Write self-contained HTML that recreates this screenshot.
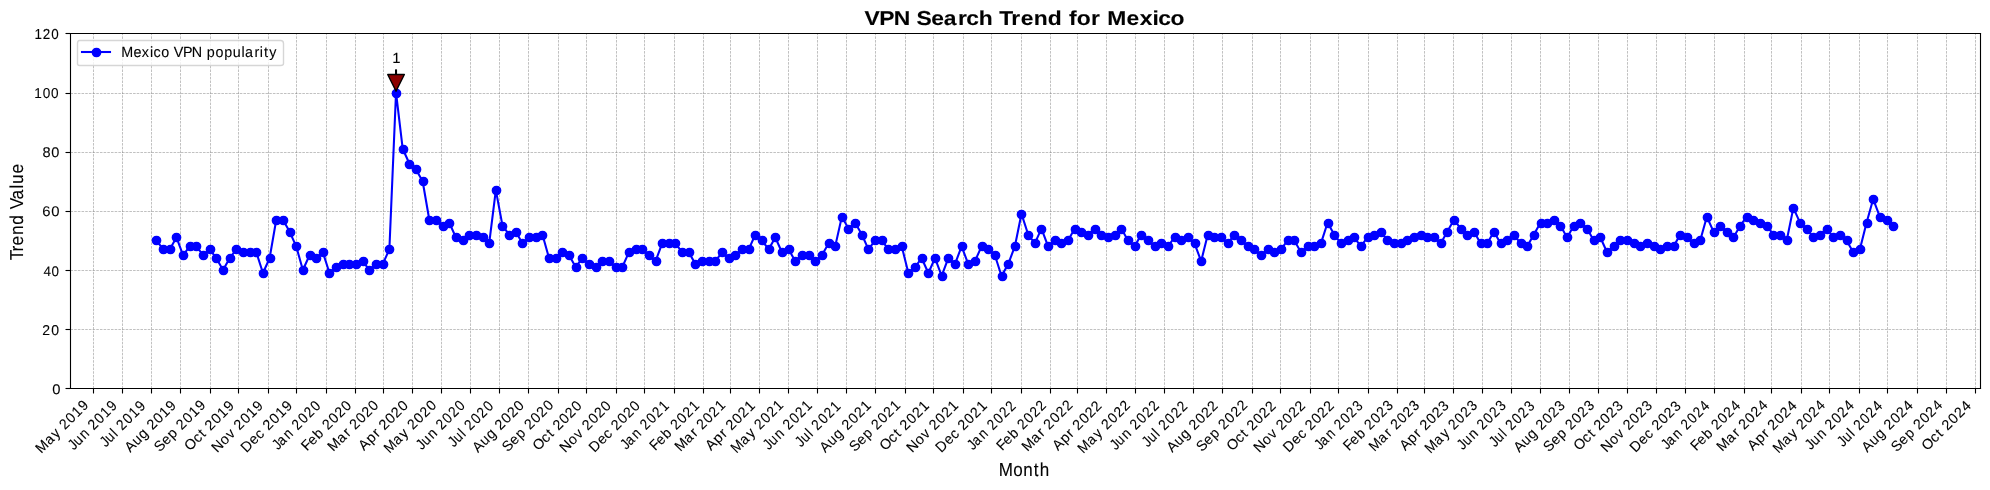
<!DOCTYPE html>
<html><head><meta charset="utf-8"><title>VPN Search Trend for Mexico</title>
<style>
html,body{margin:0;padding:0;background:#fff;width:1990px;height:490px;overflow:hidden}
svg{display:block;position:absolute;left:0;top:0}
.t{opacity:0.999}
text{font-family:"Liberation Sans",sans-serif;text-rendering:geometricPrecision;fill:#000;stroke:#000;stroke-width:0.1px}
</style></head><body>
<svg width="1990" height="490" viewBox="0 0 1990 490">
<rect width="1990" height="490" fill="#fff"/>
<path d="M70 388L1980 388L1980 33L70 33Z" fill="#ffffff"/>
<path d="M93.5 388.5L93.5 33.5" fill="none" stroke="#808080" stroke-width="0.694" stroke-opacity="0.715" stroke-linejoin="round" stroke-dasharray="2.569,1.111" stroke-dashoffset="0"/>
<path d="M93.5 388.5V393.5" stroke="#000" stroke-width="1.111"/>
<path d="M122.5 388.5L122.5 33.5" fill="none" stroke="#808080" stroke-width="0.694" stroke-opacity="0.715" stroke-linejoin="round" stroke-dasharray="2.569,1.111" stroke-dashoffset="0"/>
<path d="M122.5 388.5V393.5" stroke="#000" stroke-width="1.111"/>
<path d="M151.5 388.5L151.5 33.5" fill="none" stroke="#808080" stroke-width="0.694" stroke-opacity="0.715" stroke-linejoin="round" stroke-dasharray="2.569,1.111" stroke-dashoffset="0"/>
<path d="M151.5 388.5V393.5" stroke="#000" stroke-width="1.111"/>
<path d="M180.5 388.5L180.5 33.5" fill="none" stroke="#808080" stroke-width="0.694" stroke-opacity="0.715" stroke-linejoin="round" stroke-dasharray="2.569,1.111" stroke-dashoffset="0"/>
<path d="M180.5 388.5V393.5" stroke="#000" stroke-width="1.111"/>
<path d="M210.5 388.5L210.5 33.5" fill="none" stroke="#808080" stroke-width="0.694" stroke-opacity="0.715" stroke-linejoin="round" stroke-dasharray="2.569,1.111" stroke-dashoffset="0"/>
<path d="M210.5 388.5V393.5" stroke="#000" stroke-width="1.111"/>
<path d="M238.5 388.5L238.5 33.5" fill="none" stroke="#808080" stroke-width="0.694" stroke-opacity="0.715" stroke-linejoin="round" stroke-dasharray="2.569,1.111" stroke-dashoffset="0"/>
<path d="M238.5 388.5V393.5" stroke="#000" stroke-width="1.111"/>
<path d="M268.5 388.5L268.5 33.5" fill="none" stroke="#808080" stroke-width="0.694" stroke-opacity="0.715" stroke-linejoin="round" stroke-dasharray="2.569,1.111" stroke-dashoffset="0"/>
<path d="M268.5 388.5V393.5" stroke="#000" stroke-width="1.111"/>
<path d="M296.5 388.5L296.5 33.5" fill="none" stroke="#808080" stroke-width="0.694" stroke-opacity="0.715" stroke-linejoin="round" stroke-dasharray="2.569,1.111" stroke-dashoffset="0"/>
<path d="M296.5 388.5V393.5" stroke="#000" stroke-width="1.111"/>
<path d="M326.5 388.5L326.5 33.5" fill="none" stroke="#808080" stroke-width="0.694" stroke-opacity="0.715" stroke-linejoin="round" stroke-dasharray="2.569,1.111" stroke-dashoffset="0"/>
<path d="M326.5 388.5V393.5" stroke="#000" stroke-width="1.111"/>
<path d="M355.5 388.5L355.5 33.5" fill="none" stroke="#808080" stroke-width="0.694" stroke-opacity="0.715" stroke-linejoin="round" stroke-dasharray="2.569,1.111" stroke-dashoffset="0"/>
<path d="M355.5 388.5V393.5" stroke="#000" stroke-width="1.111"/>
<path d="M383.5 388.5L383.5 33.5" fill="none" stroke="#808080" stroke-width="0.694" stroke-opacity="0.715" stroke-linejoin="round" stroke-dasharray="2.569,1.111" stroke-dashoffset="0"/>
<path d="M383.5 388.5V393.5" stroke="#000" stroke-width="1.111"/>
<path d="M412.5 388.5L412.5 33.5" fill="none" stroke="#808080" stroke-width="0.694" stroke-opacity="0.715" stroke-linejoin="round" stroke-dasharray="2.569,1.111" stroke-dashoffset="0"/>
<path d="M412.5 388.5V393.5" stroke="#000" stroke-width="1.111"/>
<path d="M441.5 388.5L441.5 33.5" fill="none" stroke="#808080" stroke-width="0.694" stroke-opacity="0.715" stroke-linejoin="round" stroke-dasharray="2.569,1.111" stroke-dashoffset="0"/>
<path d="M441.5 388.5V393.5" stroke="#000" stroke-width="1.111"/>
<path d="M470.5 388.5L470.5 33.5" fill="none" stroke="#808080" stroke-width="0.694" stroke-opacity="0.715" stroke-linejoin="round" stroke-dasharray="2.569,1.111" stroke-dashoffset="0"/>
<path d="M470.5 388.5V393.5" stroke="#000" stroke-width="1.111"/>
<path d="M499.5 388.5L499.5 33.5" fill="none" stroke="#808080" stroke-width="0.694" stroke-opacity="0.715" stroke-linejoin="round" stroke-dasharray="2.569,1.111" stroke-dashoffset="0"/>
<path d="M499.5 388.5V393.5" stroke="#000" stroke-width="1.111"/>
<path d="M528.5 388.5L528.5 33.5" fill="none" stroke="#808080" stroke-width="0.694" stroke-opacity="0.715" stroke-linejoin="round" stroke-dasharray="2.569,1.111" stroke-dashoffset="0"/>
<path d="M528.5 388.5V393.5" stroke="#000" stroke-width="1.111"/>
<path d="M558.5 388.5L558.5 33.5" fill="none" stroke="#808080" stroke-width="0.694" stroke-opacity="0.715" stroke-linejoin="round" stroke-dasharray="2.569,1.111" stroke-dashoffset="0"/>
<path d="M558.5 388.5V393.5" stroke="#000" stroke-width="1.111"/>
<path d="M586.5 388.5L586.5 33.5" fill="none" stroke="#808080" stroke-width="0.694" stroke-opacity="0.715" stroke-linejoin="round" stroke-dasharray="2.569,1.111" stroke-dashoffset="0"/>
<path d="M586.5 388.5V393.5" stroke="#000" stroke-width="1.111"/>
<path d="M616.5 388.5L616.5 33.5" fill="none" stroke="#808080" stroke-width="0.694" stroke-opacity="0.715" stroke-linejoin="round" stroke-dasharray="2.569,1.111" stroke-dashoffset="0"/>
<path d="M616.5 388.5V393.5" stroke="#000" stroke-width="1.111"/>
<path d="M644.5 388.5L644.5 33.5" fill="none" stroke="#808080" stroke-width="0.694" stroke-opacity="0.715" stroke-linejoin="round" stroke-dasharray="2.569,1.111" stroke-dashoffset="0"/>
<path d="M644.5 388.5V393.5" stroke="#000" stroke-width="1.111"/>
<path d="M674.5 388.5L674.5 33.5" fill="none" stroke="#808080" stroke-width="0.694" stroke-opacity="0.715" stroke-linejoin="round" stroke-dasharray="2.569,1.111" stroke-dashoffset="0"/>
<path d="M674.5 388.5V393.5" stroke="#000" stroke-width="1.111"/>
<path d="M703.5 388.5L703.5 33.5" fill="none" stroke="#808080" stroke-width="0.694" stroke-opacity="0.715" stroke-linejoin="round" stroke-dasharray="2.569,1.111" stroke-dashoffset="0"/>
<path d="M703.5 388.5V393.5" stroke="#000" stroke-width="1.111"/>
<path d="M730.5 388.5L730.5 33.5" fill="none" stroke="#808080" stroke-width="0.694" stroke-opacity="0.715" stroke-linejoin="round" stroke-dasharray="2.569,1.111" stroke-dashoffset="0"/>
<path d="M730.5 388.5V393.5" stroke="#000" stroke-width="1.111"/>
<path d="M759.5 388.5L759.5 33.5" fill="none" stroke="#808080" stroke-width="0.694" stroke-opacity="0.715" stroke-linejoin="round" stroke-dasharray="2.569,1.111" stroke-dashoffset="0"/>
<path d="M759.5 388.5V393.5" stroke="#000" stroke-width="1.111"/>
<path d="M788.5 388.5L788.5 33.5" fill="none" stroke="#808080" stroke-width="0.694" stroke-opacity="0.715" stroke-linejoin="round" stroke-dasharray="2.569,1.111" stroke-dashoffset="0"/>
<path d="M788.5 388.5V393.5" stroke="#000" stroke-width="1.111"/>
<path d="M817.5 388.5L817.5 33.5" fill="none" stroke="#808080" stroke-width="0.694" stroke-opacity="0.715" stroke-linejoin="round" stroke-dasharray="2.569,1.111" stroke-dashoffset="0"/>
<path d="M817.5 388.5V393.5" stroke="#000" stroke-width="1.111"/>
<path d="M846.5 388.5L846.5 33.5" fill="none" stroke="#808080" stroke-width="0.694" stroke-opacity="0.715" stroke-linejoin="round" stroke-dasharray="2.569,1.111" stroke-dashoffset="0"/>
<path d="M846.5 388.5V393.5" stroke="#000" stroke-width="1.111"/>
<path d="M875.5 388.5L875.5 33.5" fill="none" stroke="#808080" stroke-width="0.694" stroke-opacity="0.715" stroke-linejoin="round" stroke-dasharray="2.569,1.111" stroke-dashoffset="0"/>
<path d="M875.5 388.5V393.5" stroke="#000" stroke-width="1.111"/>
<path d="M905.5 388.5L905.5 33.5" fill="none" stroke="#808080" stroke-width="0.694" stroke-opacity="0.715" stroke-linejoin="round" stroke-dasharray="2.569,1.111" stroke-dashoffset="0"/>
<path d="M905.5 388.5V393.5" stroke="#000" stroke-width="1.111"/>
<path d="M933.5 388.5L933.5 33.5" fill="none" stroke="#808080" stroke-width="0.694" stroke-opacity="0.715" stroke-linejoin="round" stroke-dasharray="2.569,1.111" stroke-dashoffset="0"/>
<path d="M933.5 388.5V393.5" stroke="#000" stroke-width="1.111"/>
<path d="M963.5 388.5L963.5 33.5" fill="none" stroke="#808080" stroke-width="0.694" stroke-opacity="0.715" stroke-linejoin="round" stroke-dasharray="2.569,1.111" stroke-dashoffset="0"/>
<path d="M963.5 388.5V393.5" stroke="#000" stroke-width="1.111"/>
<path d="M991.5 388.5L991.5 33.5" fill="none" stroke="#808080" stroke-width="0.694" stroke-opacity="0.715" stroke-linejoin="round" stroke-dasharray="2.569,1.111" stroke-dashoffset="0"/>
<path d="M991.5 388.5V393.5" stroke="#000" stroke-width="1.111"/>
<path d="M1021.5 388.5L1021.5 33.5" fill="none" stroke="#808080" stroke-width="0.694" stroke-opacity="0.715" stroke-linejoin="round" stroke-dasharray="2.569,1.111" stroke-dashoffset="0"/>
<path d="M1021.5 388.5V393.5" stroke="#000" stroke-width="1.111"/>
<path d="M1050.5 388.5L1050.5 33.5" fill="none" stroke="#808080" stroke-width="0.694" stroke-opacity="0.715" stroke-linejoin="round" stroke-dasharray="2.569,1.111" stroke-dashoffset="0"/>
<path d="M1050.5 388.5V393.5" stroke="#000" stroke-width="1.111"/>
<path d="M1077.5 388.5L1077.5 33.5" fill="none" stroke="#808080" stroke-width="0.694" stroke-opacity="0.715" stroke-linejoin="round" stroke-dasharray="2.569,1.111" stroke-dashoffset="0"/>
<path d="M1077.5 388.5V393.5" stroke="#000" stroke-width="1.111"/>
<path d="M1106.5 388.5L1106.5 33.5" fill="none" stroke="#808080" stroke-width="0.694" stroke-opacity="0.715" stroke-linejoin="round" stroke-dasharray="2.569,1.111" stroke-dashoffset="0"/>
<path d="M1106.5 388.5V393.5" stroke="#000" stroke-width="1.111"/>
<path d="M1135.5 388.5L1135.5 33.5" fill="none" stroke="#808080" stroke-width="0.694" stroke-opacity="0.715" stroke-linejoin="round" stroke-dasharray="2.569,1.111" stroke-dashoffset="0"/>
<path d="M1135.5 388.5V393.5" stroke="#000" stroke-width="1.111"/>
<path d="M1164.5 388.5L1164.5 33.5" fill="none" stroke="#808080" stroke-width="0.694" stroke-opacity="0.715" stroke-linejoin="round" stroke-dasharray="2.569,1.111" stroke-dashoffset="0"/>
<path d="M1164.5 388.5V393.5" stroke="#000" stroke-width="1.111"/>
<path d="M1193.5 388.5L1193.5 33.5" fill="none" stroke="#808080" stroke-width="0.694" stroke-opacity="0.715" stroke-linejoin="round" stroke-dasharray="2.569,1.111" stroke-dashoffset="0"/>
<path d="M1193.5 388.5V393.5" stroke="#000" stroke-width="1.111"/>
<path d="M1222.5 388.5L1222.5 33.5" fill="none" stroke="#808080" stroke-width="0.694" stroke-opacity="0.715" stroke-linejoin="round" stroke-dasharray="2.569,1.111" stroke-dashoffset="0"/>
<path d="M1222.5 388.5V393.5" stroke="#000" stroke-width="1.111"/>
<path d="M1252.5 388.5L1252.5 33.5" fill="none" stroke="#808080" stroke-width="0.694" stroke-opacity="0.715" stroke-linejoin="round" stroke-dasharray="2.569,1.111" stroke-dashoffset="0"/>
<path d="M1252.5 388.5V393.5" stroke="#000" stroke-width="1.111"/>
<path d="M1280.5 388.5L1280.5 33.5" fill="none" stroke="#808080" stroke-width="0.694" stroke-opacity="0.715" stroke-linejoin="round" stroke-dasharray="2.569,1.111" stroke-dashoffset="0"/>
<path d="M1280.5 388.5V393.5" stroke="#000" stroke-width="1.111"/>
<path d="M1310.5 388.5L1310.5 33.5" fill="none" stroke="#808080" stroke-width="0.694" stroke-opacity="0.715" stroke-linejoin="round" stroke-dasharray="2.569,1.111" stroke-dashoffset="0"/>
<path d="M1310.5 388.5V393.5" stroke="#000" stroke-width="1.111"/>
<path d="M1338.5 388.5L1338.5 33.5" fill="none" stroke="#808080" stroke-width="0.694" stroke-opacity="0.715" stroke-linejoin="round" stroke-dasharray="2.569,1.111" stroke-dashoffset="0"/>
<path d="M1338.5 388.5V393.5" stroke="#000" stroke-width="1.111"/>
<path d="M1368.5 388.5L1368.5 33.5" fill="none" stroke="#808080" stroke-width="0.694" stroke-opacity="0.715" stroke-linejoin="round" stroke-dasharray="2.569,1.111" stroke-dashoffset="0"/>
<path d="M1368.5 388.5V393.5" stroke="#000" stroke-width="1.111"/>
<path d="M1397.5 388.5L1397.5 33.5" fill="none" stroke="#808080" stroke-width="0.694" stroke-opacity="0.715" stroke-linejoin="round" stroke-dasharray="2.569,1.111" stroke-dashoffset="0"/>
<path d="M1397.5 388.5V393.5" stroke="#000" stroke-width="1.111"/>
<path d="M1424.5 388.5L1424.5 33.5" fill="none" stroke="#808080" stroke-width="0.694" stroke-opacity="0.715" stroke-linejoin="round" stroke-dasharray="2.569,1.111" stroke-dashoffset="0"/>
<path d="M1424.5 388.5V393.5" stroke="#000" stroke-width="1.111"/>
<path d="M1453.5 388.5L1453.5 33.5" fill="none" stroke="#808080" stroke-width="0.694" stroke-opacity="0.715" stroke-linejoin="round" stroke-dasharray="2.569,1.111" stroke-dashoffset="0"/>
<path d="M1453.5 388.5V393.5" stroke="#000" stroke-width="1.111"/>
<path d="M1482.5 388.5L1482.5 33.5" fill="none" stroke="#808080" stroke-width="0.694" stroke-opacity="0.715" stroke-linejoin="round" stroke-dasharray="2.569,1.111" stroke-dashoffset="0"/>
<path d="M1482.5 388.5V393.5" stroke="#000" stroke-width="1.111"/>
<path d="M1511.5 388.5L1511.5 33.5" fill="none" stroke="#808080" stroke-width="0.694" stroke-opacity="0.715" stroke-linejoin="round" stroke-dasharray="2.569,1.111" stroke-dashoffset="0"/>
<path d="M1511.5 388.5V393.5" stroke="#000" stroke-width="1.111"/>
<path d="M1540.5 388.5L1540.5 33.5" fill="none" stroke="#808080" stroke-width="0.694" stroke-opacity="0.715" stroke-linejoin="round" stroke-dasharray="2.569,1.111" stroke-dashoffset="0"/>
<path d="M1540.5 388.5V393.5" stroke="#000" stroke-width="1.111"/>
<path d="M1569.5 388.5L1569.5 33.5" fill="none" stroke="#808080" stroke-width="0.694" stroke-opacity="0.715" stroke-linejoin="round" stroke-dasharray="2.569,1.111" stroke-dashoffset="0"/>
<path d="M1569.5 388.5V393.5" stroke="#000" stroke-width="1.111"/>
<path d="M1598.5 388.5L1598.5 33.5" fill="none" stroke="#808080" stroke-width="0.694" stroke-opacity="0.715" stroke-linejoin="round" stroke-dasharray="2.569,1.111" stroke-dashoffset="0"/>
<path d="M1598.5 388.5V393.5" stroke="#000" stroke-width="1.111"/>
<path d="M1627.5 388.5L1627.5 33.5" fill="none" stroke="#808080" stroke-width="0.694" stroke-opacity="0.715" stroke-linejoin="round" stroke-dasharray="2.569,1.111" stroke-dashoffset="0"/>
<path d="M1627.5 388.5V393.5" stroke="#000" stroke-width="1.111"/>
<path d="M1656.5 388.5L1656.5 33.5" fill="none" stroke="#808080" stroke-width="0.694" stroke-opacity="0.715" stroke-linejoin="round" stroke-dasharray="2.569,1.111" stroke-dashoffset="0"/>
<path d="M1656.5 388.5V393.5" stroke="#000" stroke-width="1.111"/>
<path d="M1685.5 388.5L1685.5 33.5" fill="none" stroke="#808080" stroke-width="0.694" stroke-opacity="0.715" stroke-linejoin="round" stroke-dasharray="2.569,1.111" stroke-dashoffset="0"/>
<path d="M1685.5 388.5V393.5" stroke="#000" stroke-width="1.111"/>
<path d="M1714.5 388.5L1714.5 33.5" fill="none" stroke="#808080" stroke-width="0.694" stroke-opacity="0.715" stroke-linejoin="round" stroke-dasharray="2.569,1.111" stroke-dashoffset="0"/>
<path d="M1714.5 388.5V393.5" stroke="#000" stroke-width="1.111"/>
<path d="M1744.5 388.5L1744.5 33.5" fill="none" stroke="#808080" stroke-width="0.694" stroke-opacity="0.715" stroke-linejoin="round" stroke-dasharray="2.569,1.111" stroke-dashoffset="0"/>
<path d="M1744.5 388.5V393.5" stroke="#000" stroke-width="1.111"/>
<path d="M1771.5 388.5L1771.5 33.5" fill="none" stroke="#808080" stroke-width="0.694" stroke-opacity="0.715" stroke-linejoin="round" stroke-dasharray="2.569,1.111" stroke-dashoffset="0"/>
<path d="M1771.5 388.5V393.5" stroke="#000" stroke-width="1.111"/>
<path d="M1801.5 388.5L1801.5 33.5" fill="none" stroke="#808080" stroke-width="0.694" stroke-opacity="0.715" stroke-linejoin="round" stroke-dasharray="2.569,1.111" stroke-dashoffset="0"/>
<path d="M1801.5 388.5V393.5" stroke="#000" stroke-width="1.111"/>
<path d="M1829.5 388.5L1829.5 33.5" fill="none" stroke="#808080" stroke-width="0.694" stroke-opacity="0.715" stroke-linejoin="round" stroke-dasharray="2.569,1.111" stroke-dashoffset="0"/>
<path d="M1829.5 388.5V393.5" stroke="#000" stroke-width="1.111"/>
<path d="M1859.5 388.5L1859.5 33.5" fill="none" stroke="#808080" stroke-width="0.694" stroke-opacity="0.715" stroke-linejoin="round" stroke-dasharray="2.569,1.111" stroke-dashoffset="0"/>
<path d="M1859.5 388.5V393.5" stroke="#000" stroke-width="1.111"/>
<path d="M1887.5 388.5L1887.5 33.5" fill="none" stroke="#808080" stroke-width="0.694" stroke-opacity="0.715" stroke-linejoin="round" stroke-dasharray="2.569,1.111" stroke-dashoffset="0"/>
<path d="M1887.5 388.5V393.5" stroke="#000" stroke-width="1.111"/>
<path d="M1917.5 388.5L1917.5 33.5" fill="none" stroke="#808080" stroke-width="0.694" stroke-opacity="0.715" stroke-linejoin="round" stroke-dasharray="2.569,1.111" stroke-dashoffset="0"/>
<path d="M1917.5 388.5V393.5" stroke="#000" stroke-width="1.111"/>
<path d="M1946.5 388.5L1946.5 33.5" fill="none" stroke="#808080" stroke-width="0.694" stroke-opacity="0.715" stroke-linejoin="round" stroke-dasharray="2.569,1.111" stroke-dashoffset="0"/>
<path d="M1946.5 388.5V393.5" stroke="#000" stroke-width="1.111"/>
<path d="M1975.5 388.5L1975.5 33.5" fill="none" stroke="#808080" stroke-width="0.694" stroke-opacity="0.715" stroke-linejoin="round" stroke-dasharray="2.569,1.111" stroke-dashoffset="0"/>
<path d="M1975.5 388.5V393.5" stroke="#000" stroke-width="1.111"/>
<path d="M70.5 388.5L1980.5 388.5" fill="none" stroke="#808080" stroke-width="0.694" stroke-opacity="0.715" stroke-linejoin="round" stroke-dasharray="2.569,1.111" stroke-dashoffset="0"/>
<path d="M65.5 388.5H70.5" stroke="#000" stroke-width="1.111"/>
<path d="M70.5 329.5L1980.5 329.5" fill="none" stroke="#808080" stroke-width="0.694" stroke-opacity="0.715" stroke-linejoin="round" stroke-dasharray="2.569,1.111" stroke-dashoffset="0"/>
<path d="M65.5 329.5H70.5" stroke="#000" stroke-width="1.111"/>
<path d="M70.5 270.5L1980.5 270.5" fill="none" stroke="#808080" stroke-width="0.694" stroke-opacity="0.715" stroke-linejoin="round" stroke-dasharray="2.569,1.111" stroke-dashoffset="0"/>
<path d="M65.5 270.5H70.5" stroke="#000" stroke-width="1.111"/>
<path d="M70.5 211.5L1980.5 211.5" fill="none" stroke="#808080" stroke-width="0.694" stroke-opacity="0.715" stroke-linejoin="round" stroke-dasharray="2.569,1.111" stroke-dashoffset="0"/>
<path d="M65.5 211.5H70.5" stroke="#000" stroke-width="1.111"/>
<path d="M70.5 152.5L1980.5 152.5" fill="none" stroke="#808080" stroke-width="0.694" stroke-opacity="0.715" stroke-linejoin="round" stroke-dasharray="2.569,1.111" stroke-dashoffset="0"/>
<path d="M65.5 152.5H70.5" stroke="#000" stroke-width="1.111"/>
<path d="M70.5 93.5L1980.5 93.5" fill="none" stroke="#808080" stroke-width="0.694" stroke-opacity="0.715" stroke-linejoin="round" stroke-dasharray="2.569,1.111" stroke-dashoffset="0"/>
<path d="M65.5 93.5H70.5" stroke="#000" stroke-width="1.111"/>
<path d="M70.5 33.5L1980.5 33.5" fill="none" stroke="#808080" stroke-width="0.694" stroke-opacity="0.715" stroke-linejoin="round" stroke-dasharray="2.569,1.111" stroke-dashoffset="0"/>
<path d="M65.5 33.5H70.5" stroke="#000" stroke-width="1.111"/>
<path d="M156.487 240.447L163.141 249.324L169.795 249.324L176.449 237.489L183.103 255.241L189.756 246.365L196.41 246.365L203.064 255.241L209.718 249.324L216.372 258.2L223.026 270.035L229.68 258.2L236.334 249.324L242.988 252.282L249.642 252.282L256.296 252.282L262.95 272.994L269.604 258.2L276.258 219.736L282.912 219.736L289.566 231.571L296.22 246.365L302.874 270.035L309.527 255.241L316.181 258.2L322.835 252.282L329.489 272.994L336.143 267.076L342.797 264.118L349.451 264.118L356.105 264.118L362.759 261.159L369.413 270.035L376.067 264.118L382.721 264.118L389.375 249.324L396.029 92.509L402.683 148.725L409.337 163.519L415.991 169.437L422.644 181.272L429.298 219.736L435.952 219.736L442.606 225.653L449.26 222.695L455.914 237.489L462.568 240.447L469.222 234.53L475.876 234.53L482.53 237.489L489.184 243.406L495.838 190.148L502.492 225.653L509.146 234.53L515.8 231.571L522.454 243.406L529.108 237.489L535.762 237.489L542.415 234.53L549.069 258.2L555.723 258.2L562.377 252.282L569.031 255.241L575.685 267.076L582.339 258.2L588.993 264.118L595.647 267.076L602.301 261.159L608.955 261.159L615.609 267.076L622.263 267.076L628.917 252.282L635.571 249.324L642.225 249.324L648.879 255.241L655.533 261.159L662.186 243.406L668.84 243.406L675.494 243.406L682.148 252.282L688.802 252.282L695.456 264.118L702.11 261.159L708.764 261.159L715.418 261.159L722.072 252.282L728.726 258.2L735.38 255.241L742.034 249.324L748.688 249.324L755.342 234.53L761.996 240.447L768.65 249.324L775.304 237.489L781.957 252.282L788.611 249.324L795.265 261.159L801.919 255.241L808.573 255.241L815.227 261.159L821.881 255.241L828.535 243.406L835.189 246.365L841.843 216.777L848.497 228.612L855.151 222.695L861.805 234.53L868.459 249.324L875.113 240.447L881.767 240.447L888.421 249.324L895.074 249.324L901.728 246.365L908.382 272.994L915.036 267.076L921.69 258.2L928.344 272.994L934.998 258.2L941.652 275.953L948.306 258.2L954.96 264.118L961.614 246.365L968.268 264.118L974.922 261.159L981.576 246.365L988.23 249.324L994.884 255.241L1001.538 275.953L1008.192 264.118L1014.845 246.365L1021.499 213.818L1028.153 234.53L1034.807 243.406L1041.461 228.612L1048.115 246.365L1054.769 240.447L1061.423 243.406L1068.077 240.447L1074.731 228.612L1081.385 231.571L1088.039 234.53L1094.693 228.612L1101.347 234.53L1108.001 237.489L1114.655 234.53L1121.309 228.612L1127.963 240.447L1134.616 246.365L1141.27 234.53L1147.924 240.447L1154.578 246.365L1161.232 243.406L1167.886 246.365L1174.54 237.489L1181.194 240.447L1187.848 237.489L1194.502 243.406L1201.156 261.159L1207.81 234.53L1214.464 237.489L1221.118 237.489L1227.772 243.406L1234.426 234.53L1241.08 240.447L1247.734 246.365L1254.387 249.324L1261.041 255.241L1267.695 249.324L1274.349 252.282L1281.003 249.324L1287.657 240.447L1294.311 240.447L1300.965 252.282L1307.619 246.365L1314.273 246.365L1320.927 243.406L1327.581 222.695L1334.235 234.53L1340.889 243.406L1347.543 240.447L1354.197 237.489L1360.851 246.365L1367.504 237.489L1374.158 234.53L1380.812 231.571L1387.466 240.447L1394.12 243.406L1400.774 243.406L1407.428 240.447L1414.082 237.489L1420.736 234.53L1427.39 237.489L1434.044 237.489L1440.698 243.406L1447.352 231.571L1454.006 219.736L1460.66 228.612L1467.314 234.53L1473.968 231.571L1480.622 243.406L1487.275 243.406L1493.929 231.571L1500.583 243.406L1507.237 240.447L1513.891 234.53L1520.545 243.406L1527.199 246.365L1533.853 234.53L1540.507 222.695L1547.161 222.695L1553.815 219.736L1560.469 225.653L1567.123 237.489L1573.777 225.653L1580.431 222.695L1587.085 228.612L1593.739 240.447L1600.393 237.489L1607.046 252.282L1613.7 246.365L1620.354 240.447L1627.008 240.447L1633.662 243.406L1640.316 246.365L1646.97 243.406L1653.624 246.365L1660.278 249.324L1666.932 246.365L1673.586 246.365L1680.24 234.53L1686.894 237.489L1693.548 243.406L1700.202 240.447L1706.856 216.777L1713.51 231.571L1720.164 225.653L1726.817 231.571L1733.471 237.489L1740.125 225.653L1746.779 216.777L1753.433 219.736L1760.087 222.695L1766.741 225.653L1773.395 234.53L1780.049 234.53L1786.703 240.447L1793.357 207.901L1800.011 222.695L1806.665 228.612L1813.319 237.489L1819.973 234.53L1826.627 228.612L1833.281 237.489L1839.934 234.53L1846.588 240.447L1853.242 252.282L1859.896 249.324L1866.55 222.695L1873.204 199.025L1879.858 216.777L1886.512 219.736L1893.166 225.653" fill="none" stroke="#0000ff" stroke-width="2.083" stroke-linecap="square" stroke-linejoin="round"/>
<g fill="#0000ff" stroke="#0000ff" stroke-width="1.389"><circle cx="156.5" cy="240.5" r="4.167"/><circle cx="163.5" cy="249.5" r="4.167"/><circle cx="170.5" cy="249.5" r="4.167"/><circle cx="176.5" cy="237.5" r="4.167"/><circle cx="183.5" cy="255.5" r="4.167"/><circle cx="190.5" cy="246.5" r="4.167"/><circle cx="196.5" cy="246.5" r="4.167"/><circle cx="203.5" cy="255.5" r="4.167"/><circle cx="210.5" cy="249.5" r="4.167"/><circle cx="216.5" cy="258.5" r="4.167"/><circle cx="223.5" cy="270.5" r="4.167"/><circle cx="230.5" cy="258.5" r="4.167"/><circle cx="236.5" cy="249.5" r="4.167"/><circle cx="243.5" cy="252.5" r="4.167"/><circle cx="250.5" cy="252.5" r="4.167"/><circle cx="256.5" cy="252.5" r="4.167"/><circle cx="263.5" cy="273.5" r="4.167"/><circle cx="270.5" cy="258.5" r="4.167"/><circle cx="276.5" cy="220.5" r="4.167"/><circle cx="283.5" cy="220.5" r="4.167"/><circle cx="290.5" cy="232.5" r="4.167"/><circle cx="296.5" cy="246.5" r="4.167"/><circle cx="303.5" cy="270.5" r="4.167"/><circle cx="310.5" cy="255.5" r="4.167"/><circle cx="316.5" cy="258.5" r="4.167"/><circle cx="323.5" cy="252.5" r="4.167"/><circle cx="329.5" cy="273.5" r="4.167"/><circle cx="336.5" cy="267.5" r="4.167"/><circle cx="343.5" cy="264.5" r="4.167"/><circle cx="349.5" cy="264.5" r="4.167"/><circle cx="356.5" cy="264.5" r="4.167"/><circle cx="363.5" cy="261.5" r="4.167"/><circle cx="369.5" cy="270.5" r="4.167"/><circle cx="376.5" cy="264.5" r="4.167"/><circle cx="383.5" cy="264.5" r="4.167"/><circle cx="389.5" cy="249.5" r="4.167"/><circle cx="396.5" cy="93.5" r="4.167"/><circle cx="403.5" cy="149.5" r="4.167"/><circle cx="409.5" cy="164.5" r="4.167"/><circle cx="416.5" cy="169.5" r="4.167"/><circle cx="423.5" cy="181.5" r="4.167"/><circle cx="429.5" cy="220.5" r="4.167"/><circle cx="436.5" cy="220.5" r="4.167"/><circle cx="443.5" cy="226.5" r="4.167"/><circle cx="449.5" cy="223.5" r="4.167"/><circle cx="456.5" cy="237.5" r="4.167"/><circle cx="463.5" cy="240.5" r="4.167"/><circle cx="469.5" cy="235.5" r="4.167"/><circle cx="476.5" cy="235.5" r="4.167"/><circle cx="483.5" cy="237.5" r="4.167"/><circle cx="489.5" cy="243.5" r="4.167"/><circle cx="496.5" cy="190.5" r="4.167"/><circle cx="502.5" cy="226.5" r="4.167"/><circle cx="509.5" cy="235.5" r="4.167"/><circle cx="516.5" cy="232.5" r="4.167"/><circle cx="522.5" cy="243.5" r="4.167"/><circle cx="529.5" cy="237.5" r="4.167"/><circle cx="536.5" cy="237.5" r="4.167"/><circle cx="542.5" cy="235.5" r="4.167"/><circle cx="549.5" cy="258.5" r="4.167"/><circle cx="556.5" cy="258.5" r="4.167"/><circle cx="562.5" cy="252.5" r="4.167"/><circle cx="569.5" cy="255.5" r="4.167"/><circle cx="576.5" cy="267.5" r="4.167"/><circle cx="582.5" cy="258.5" r="4.167"/><circle cx="589.5" cy="264.5" r="4.167"/><circle cx="596.5" cy="267.5" r="4.167"/><circle cx="602.5" cy="261.5" r="4.167"/><circle cx="609.5" cy="261.5" r="4.167"/><circle cx="616.5" cy="267.5" r="4.167"/><circle cx="622.5" cy="267.5" r="4.167"/><circle cx="629.5" cy="252.5" r="4.167"/><circle cx="636.5" cy="249.5" r="4.167"/><circle cx="642.5" cy="249.5" r="4.167"/><circle cx="649.5" cy="255.5" r="4.167"/><circle cx="656.5" cy="261.5" r="4.167"/><circle cx="662.5" cy="243.5" r="4.167"/><circle cx="669.5" cy="243.5" r="4.167"/><circle cx="675.5" cy="243.5" r="4.167"/><circle cx="682.5" cy="252.5" r="4.167"/><circle cx="689.5" cy="252.5" r="4.167"/><circle cx="695.5" cy="264.5" r="4.167"/><circle cx="702.5" cy="261.5" r="4.167"/><circle cx="709.5" cy="261.5" r="4.167"/><circle cx="715.5" cy="261.5" r="4.167"/><circle cx="722.5" cy="252.5" r="4.167"/><circle cx="729.5" cy="258.5" r="4.167"/><circle cx="735.5" cy="255.5" r="4.167"/><circle cx="742.5" cy="249.5" r="4.167"/><circle cx="749.5" cy="249.5" r="4.167"/><circle cx="755.5" cy="235.5" r="4.167"/><circle cx="762.5" cy="240.5" r="4.167"/><circle cx="769.5" cy="249.5" r="4.167"/><circle cx="775.5" cy="237.5" r="4.167"/><circle cx="782.5" cy="252.5" r="4.167"/><circle cx="789.5" cy="249.5" r="4.167"/><circle cx="795.5" cy="261.5" r="4.167"/><circle cx="802.5" cy="255.5" r="4.167"/><circle cx="809.5" cy="255.5" r="4.167"/><circle cx="815.5" cy="261.5" r="4.167"/><circle cx="822.5" cy="255.5" r="4.167"/><circle cx="829.5" cy="243.5" r="4.167"/><circle cx="835.5" cy="246.5" r="4.167"/><circle cx="842.5" cy="217.5" r="4.167"/><circle cx="848.5" cy="229.5" r="4.167"/><circle cx="855.5" cy="223.5" r="4.167"/><circle cx="862.5" cy="235.5" r="4.167"/><circle cx="868.5" cy="249.5" r="4.167"/><circle cx="875.5" cy="240.5" r="4.167"/><circle cx="882.5" cy="240.5" r="4.167"/><circle cx="888.5" cy="249.5" r="4.167"/><circle cx="895.5" cy="249.5" r="4.167"/><circle cx="902.5" cy="246.5" r="4.167"/><circle cx="908.5" cy="273.5" r="4.167"/><circle cx="915.5" cy="267.5" r="4.167"/><circle cx="922.5" cy="258.5" r="4.167"/><circle cx="928.5" cy="273.5" r="4.167"/><circle cx="935.5" cy="258.5" r="4.167"/><circle cx="942.5" cy="276.5" r="4.167"/><circle cx="948.5" cy="258.5" r="4.167"/><circle cx="955.5" cy="264.5" r="4.167"/><circle cx="962.5" cy="246.5" r="4.167"/><circle cx="968.5" cy="264.5" r="4.167"/><circle cx="975.5" cy="261.5" r="4.167"/><circle cx="982.5" cy="246.5" r="4.167"/><circle cx="988.5" cy="249.5" r="4.167"/><circle cx="995.5" cy="255.5" r="4.167"/><circle cx="1002.5" cy="276.5" r="4.167"/><circle cx="1008.5" cy="264.5" r="4.167"/><circle cx="1015.5" cy="246.5" r="4.167"/><circle cx="1021.5" cy="214.5" r="4.167"/><circle cx="1028.5" cy="235.5" r="4.167"/><circle cx="1035.5" cy="243.5" r="4.167"/><circle cx="1041.5" cy="229.5" r="4.167"/><circle cx="1048.5" cy="246.5" r="4.167"/><circle cx="1055.5" cy="240.5" r="4.167"/><circle cx="1061.5" cy="243.5" r="4.167"/><circle cx="1068.5" cy="240.5" r="4.167"/><circle cx="1075.5" cy="229.5" r="4.167"/><circle cx="1081.5" cy="232.5" r="4.167"/><circle cx="1088.5" cy="235.5" r="4.167"/><circle cx="1095.5" cy="229.5" r="4.167"/><circle cx="1101.5" cy="235.5" r="4.167"/><circle cx="1108.5" cy="237.5" r="4.167"/><circle cx="1115.5" cy="235.5" r="4.167"/><circle cx="1121.5" cy="229.5" r="4.167"/><circle cx="1128.5" cy="240.5" r="4.167"/><circle cx="1135.5" cy="246.5" r="4.167"/><circle cx="1141.5" cy="235.5" r="4.167"/><circle cx="1148.5" cy="240.5" r="4.167"/><circle cx="1155.5" cy="246.5" r="4.167"/><circle cx="1161.5" cy="243.5" r="4.167"/><circle cx="1168.5" cy="246.5" r="4.167"/><circle cx="1175.5" cy="237.5" r="4.167"/><circle cx="1181.5" cy="240.5" r="4.167"/><circle cx="1188.5" cy="237.5" r="4.167"/><circle cx="1195.5" cy="243.5" r="4.167"/><circle cx="1201.5" cy="261.5" r="4.167"/><circle cx="1208.5" cy="235.5" r="4.167"/><circle cx="1214.5" cy="237.5" r="4.167"/><circle cx="1221.5" cy="237.5" r="4.167"/><circle cx="1228.5" cy="243.5" r="4.167"/><circle cx="1234.5" cy="235.5" r="4.167"/><circle cx="1241.5" cy="240.5" r="4.167"/><circle cx="1248.5" cy="246.5" r="4.167"/><circle cx="1254.5" cy="249.5" r="4.167"/><circle cx="1261.5" cy="255.5" r="4.167"/><circle cx="1268.5" cy="249.5" r="4.167"/><circle cx="1274.5" cy="252.5" r="4.167"/><circle cx="1281.5" cy="249.5" r="4.167"/><circle cx="1288.5" cy="240.5" r="4.167"/><circle cx="1294.5" cy="240.5" r="4.167"/><circle cx="1301.5" cy="252.5" r="4.167"/><circle cx="1308.5" cy="246.5" r="4.167"/><circle cx="1314.5" cy="246.5" r="4.167"/><circle cx="1321.5" cy="243.5" r="4.167"/><circle cx="1328.5" cy="223.5" r="4.167"/><circle cx="1334.5" cy="235.5" r="4.167"/><circle cx="1341.5" cy="243.5" r="4.167"/><circle cx="1348.5" cy="240.5" r="4.167"/><circle cx="1354.5" cy="237.5" r="4.167"/><circle cx="1361.5" cy="246.5" r="4.167"/><circle cx="1368.5" cy="237.5" r="4.167"/><circle cx="1374.5" cy="235.5" r="4.167"/><circle cx="1381.5" cy="232.5" r="4.167"/><circle cx="1387.5" cy="240.5" r="4.167"/><circle cx="1394.5" cy="243.5" r="4.167"/><circle cx="1401.5" cy="243.5" r="4.167"/><circle cx="1407.5" cy="240.5" r="4.167"/><circle cx="1414.5" cy="237.5" r="4.167"/><circle cx="1421.5" cy="235.5" r="4.167"/><circle cx="1427.5" cy="237.5" r="4.167"/><circle cx="1434.5" cy="237.5" r="4.167"/><circle cx="1441.5" cy="243.5" r="4.167"/><circle cx="1447.5" cy="232.5" r="4.167"/><circle cx="1454.5" cy="220.5" r="4.167"/><circle cx="1461.5" cy="229.5" r="4.167"/><circle cx="1467.5" cy="235.5" r="4.167"/><circle cx="1474.5" cy="232.5" r="4.167"/><circle cx="1481.5" cy="243.5" r="4.167"/><circle cx="1487.5" cy="243.5" r="4.167"/><circle cx="1494.5" cy="232.5" r="4.167"/><circle cx="1501.5" cy="243.5" r="4.167"/><circle cx="1507.5" cy="240.5" r="4.167"/><circle cx="1514.5" cy="235.5" r="4.167"/><circle cx="1521.5" cy="243.5" r="4.167"/><circle cx="1527.5" cy="246.5" r="4.167"/><circle cx="1534.5" cy="235.5" r="4.167"/><circle cx="1541.5" cy="223.5" r="4.167"/><circle cx="1547.5" cy="223.5" r="4.167"/><circle cx="1554.5" cy="220.5" r="4.167"/><circle cx="1560.5" cy="226.5" r="4.167"/><circle cx="1567.5" cy="237.5" r="4.167"/><circle cx="1574.5" cy="226.5" r="4.167"/><circle cx="1580.5" cy="223.5" r="4.167"/><circle cx="1587.5" cy="229.5" r="4.167"/><circle cx="1594.5" cy="240.5" r="4.167"/><circle cx="1600.5" cy="237.5" r="4.167"/><circle cx="1607.5" cy="252.5" r="4.167"/><circle cx="1614.5" cy="246.5" r="4.167"/><circle cx="1620.5" cy="240.5" r="4.167"/><circle cx="1627.5" cy="240.5" r="4.167"/><circle cx="1634.5" cy="243.5" r="4.167"/><circle cx="1640.5" cy="246.5" r="4.167"/><circle cx="1647.5" cy="243.5" r="4.167"/><circle cx="1654.5" cy="246.5" r="4.167"/><circle cx="1660.5" cy="249.5" r="4.167"/><circle cx="1667.5" cy="246.5" r="4.167"/><circle cx="1674.5" cy="246.5" r="4.167"/><circle cx="1680.5" cy="235.5" r="4.167"/><circle cx="1687.5" cy="237.5" r="4.167"/><circle cx="1694.5" cy="243.5" r="4.167"/><circle cx="1700.5" cy="240.5" r="4.167"/><circle cx="1707.5" cy="217.5" r="4.167"/><circle cx="1714.5" cy="232.5" r="4.167"/><circle cx="1720.5" cy="226.5" r="4.167"/><circle cx="1727.5" cy="232.5" r="4.167"/><circle cx="1733.5" cy="237.5" r="4.167"/><circle cx="1740.5" cy="226.5" r="4.167"/><circle cx="1747.5" cy="217.5" r="4.167"/><circle cx="1753.5" cy="220.5" r="4.167"/><circle cx="1760.5" cy="223.5" r="4.167"/><circle cx="1767.5" cy="226.5" r="4.167"/><circle cx="1773.5" cy="235.5" r="4.167"/><circle cx="1780.5" cy="235.5" r="4.167"/><circle cx="1787.5" cy="240.5" r="4.167"/><circle cx="1793.5" cy="208.5" r="4.167"/><circle cx="1800.5" cy="223.5" r="4.167"/><circle cx="1807.5" cy="229.5" r="4.167"/><circle cx="1813.5" cy="237.5" r="4.167"/><circle cx="1820.5" cy="235.5" r="4.167"/><circle cx="1827.5" cy="229.5" r="4.167"/><circle cx="1833.5" cy="237.5" r="4.167"/><circle cx="1840.5" cy="235.5" r="4.167"/><circle cx="1847.5" cy="240.5" r="4.167"/><circle cx="1853.5" cy="252.5" r="4.167"/><circle cx="1860.5" cy="249.5" r="4.167"/><circle cx="1867.5" cy="223.5" r="4.167"/><circle cx="1873.5" cy="199.5" r="4.167"/><circle cx="1880.5" cy="217.5" r="4.167"/><circle cx="1887.5" cy="220.5" r="4.167"/><circle cx="1893.5" cy="226.5" r="4.167"/></g>
<path d="M70.5 388.5L70.5 33.5" fill="none" stroke="#000000" stroke-width="1.111" stroke-linecap="square"/>
<path d="M1980.5 388.5L1980.5 33.5" fill="none" stroke="#000000" stroke-width="1.111" stroke-linecap="square"/>
<path d="M70.5 388.5L1980.5 388.5" fill="none" stroke="#000000" stroke-width="1.111" stroke-linecap="square"/>
<path d="M70.5 33.5L1980.5 33.5" fill="none" stroke="#000000" stroke-width="1.111" stroke-linecap="square"/>
<path d="M396.376 70.024Q396.376 72.267 396.376 74.51L404.362 74.51Q400.195 82.844 396.029 91.178Q391.862 82.844 387.695 74.51L395.681 74.51Q395.681 72.267 395.681 70.024L396.376 70.024Z" fill="#8b0000" stroke="#000000" stroke-width="1.389" stroke-linecap="round" stroke-linejoin="round"/>
<path d="M79.5 65.5L280.5 65.5Q283.5 65.5 283.5 63.5L283.5 43.5Q283.5 40.5 280.5 40.5L79.5 40.5Q77.5 40.5 77.5 43.5L77.5 63.5Q77.5 65.5 79.5 65.5Z" fill="#ffffff" fill-opacity="0.8" stroke="#cccccc" stroke-width="1.389" stroke-opacity="0.8"/>
<path d="M82 52L96 52L110 52" fill="none" stroke="#0000ff" stroke-width="2.083" stroke-linecap="square" stroke-linejoin="round"/>
<g fill="#0000ff" stroke="#0000ff" stroke-width="1.389"><circle cx="96.5" cy="52.5" r="4.167"/></g>
<g class="t"><text transform="translate(42.241,454.323) rotate(-45) translate(-0.454,-0.954) scale(1.008,1.045)" x="0.117 11.779 21.062 28.647 33.251 42.087 50.821 59.604" font-size="13.889">May 2019</text>
<text transform="translate(76.923,449.108) rotate(-45) translate(-1.321,-1.048) scale(0.984,1.076)" x="-2.077 4.57 13.572 21.864 26.68 35.737 44.694 53.692" font-size="13.889">Jun 2019</text>
<text transform="translate(108.887,445.661) rotate(-45) translate(-1.642,-0.837) scale(0.973,1.083)" x="-2.065 4.669 13.524 17.104 22.022 31.185 40.249 49.35" font-size="13.889">Jul 2019</text>
<text transform="translate(130.93,453.086) rotate(-45) translate(-0.352,-0.585) scale(1.033,1.038)" x="-0.097 9.443 17.875 26.17 30.541 39.133 47.621 56.168" font-size="13.889">Aug 2019</text>
<text transform="translate(161.105,452.379) rotate(-45) translate(-0.755,-0.889) scale(1.026,1.04)" x="-0.315 8.912 17.454 25.651 30.168 38.912 47.554 56.248" font-size="13.889">Sep 2019</text>
<text transform="translate(191.124,450.876) rotate(-45) translate(-0.898,-0.32) scale(1.039,1.044)" x="-0.206 10.46 18.443 23.089 27.435 36.004 44.466 52.989" font-size="13.889">Oct 2019</text>
<text transform="translate(218.382,453.086) rotate(-45) translate(-0.82,-0.693) scale(1.026,1.045)" x="-0.026 10.271 18.815 26.335 30.758 39.405 47.948 56.547" font-size="13.889">Nov 2019</text>
<text transform="translate(247.076,452.909) rotate(-45) translate(-0.871,-0.264) scale(1.036,1.047)" x="0.156 10.688 18.686 26.052 30.461 39.094 47.623 56.21" font-size="13.889">Dec 2019</text>
<text transform="translate(280.609,448.843) rotate(-45) translate(-1.096,-0.752) scale(0.947,1.074)" x="-2.043 4.32 14.028 22.467 27.577 36.938 45.971 55.332" font-size="13.889">Jan 2020</text>
<text transform="translate(307.778,451.141) rotate(-45) translate(-0.422,-0.242) scale(1.01,1.047)" x="-0.353 7.539 16.159 24.392 28.983 37.805 46.318 55.14" font-size="13.889">Feb 2020</text>
<text transform="translate(334.107,452.379) rotate(-45) translate(-0.413,-0.712) scale(1.012,1.042)" x="0.082 11.686 21.107 26.014 30.569 39.353 47.829 56.614" font-size="13.889">Mar 2020</text>
<text transform="translate(365.166,450.788) rotate(-45) translate(-0.97,-0.485) scale(1.047,1.038)" x="-0.131 9.502 18.261 23.103 27.412 35.941 44.17 52.699" font-size="13.889">Apr 2020</text>
<text transform="translate(390.324,454.146) rotate(-45) translate(-0.458,-0.853) scale(0.999,1.03)" x="0.153 11.876 21.211 28.821 33.476 42.366 50.943 59.833" font-size="13.889">May 2020</text>
<text transform="translate(425.006,448.931) rotate(-45) translate(-1.37,-1.165) scale(0.978,1.068)" x="-2.07 4.627 13.69 22.011 26.886 36.004 44.802 53.92" font-size="13.889">Jun 2020</text>
<text transform="translate(456.97,445.484) rotate(-45) translate(-1.82,-0.722) scale(0.968,1.082)" x="-2.057 4.733 13.636 17.232 22.216 31.447 40.354 49.585" font-size="13.889">Jul 2020</text>
<text transform="translate(479.013,452.909) rotate(-45) translate(-0.772,-0.516) scale(1.032,1.041)" x="-0.067 9.53 18.015 26.339 30.763 39.411 47.756 56.404" font-size="13.889">Aug 2020</text>
<text transform="translate(509.188,452.202) rotate(-45) translate(-0.807,-0.799) scale(1.017,1.041)" x="-0.287 8.995 17.593 25.816 30.387 39.188 47.68 56.482" font-size="13.889">Sep 2020</text>
<text transform="translate(539.207,450.699) rotate(-45) translate(-0.962,-0.311) scale(1.031,1.033)" x="-0.171 10.556 18.582 23.246 27.649 36.275 44.599 53.225" font-size="13.889">Oct 2020</text>
<text transform="translate(566.465,452.909) rotate(-45) translate(-1.13,-0.58) scale(1.023,1.035)" x="0.006 10.362 18.959 26.505 30.982 39.684 48.082 56.785" font-size="13.889">Nov 2020</text>
<text transform="translate(595.159,452.732) rotate(-45) translate(-0.825,-0.243) scale(1.026,1.039)" x="0.191 10.783 18.831 26.221 30.685 39.375 47.759 56.449" font-size="13.889">Dec 2020</text>
<text transform="translate(628.427,448.931) rotate(-45) translate(-0.622,-0.534) scale(0.939,1.081)" x="-2.036 4.374 14.142 22.609 27.776 37.196 46.286 55.776" font-size="13.889">Jan 2021</text>
<text transform="translate(655.596,451.23) rotate(-45) translate(0.072,-0.112) scale(0.999,1.055)" x="-0.332 7.597 16.26 24.515 29.148 38.015 46.57 55.49" font-size="13.889">Feb 2021</text>
<text transform="translate(680.974,452.467) rotate(-45) translate(-0.102,-0.686) scale(1.004,1.046)" x="0.111 11.764 21.224 26.142 30.738 39.565 48.083 56.963" font-size="13.889">Mar 2021</text>
<text transform="translate(712.033,450.876) rotate(-45) translate(-0.881,-0.374) scale(1.042,1.052)" x="-0.11 9.562 18.354 23.206 27.551 36.118 44.384 52.996" font-size="13.889">Apr 2021</text>
<text transform="translate(737.191,454.235) rotate(-45) translate(-0.405,-0.872) scale(0.997,1.048)" x="0.181 11.953 21.329 28.958 33.655 42.587 51.205 60.192" font-size="13.889">May 2021</text>
<text transform="translate(771.873,449.02) rotate(-45) translate(-1.273,-1.08) scale(0.973,1.082)" x="-2.064 4.678 13.794 22.142 27.069 36.241 45.092 54.326" font-size="13.889">Jun 2021</text>
<text transform="translate(803.838,445.573) rotate(-45) translate(-1.441,-0.474) scale(0.956,1.09)" x="-2.05 4.793 13.742 17.352 22.398 31.694 40.663 50.024" font-size="13.889">Jul 2021</text>
<text transform="translate(825.88,452.997) rotate(-45) translate(-0.535,-0.384) scale(1.024,1.043)" x="-0.047 9.589 18.112 26.457 30.918 39.605 47.987 56.722" font-size="13.889">Aug 2021</text>
<text transform="translate(856.055,452.29) rotate(-45) translate(-0.506,-0.684) scale(1.008,1.046)" x="-0.266 9.057 17.698 25.942 30.553 39.397 47.931 56.827" font-size="13.889">Sep 2021</text>
<text transform="translate(886.074,450.788) rotate(-45) translate(-0.786,-0.217) scale(1.029,1.044)" x="-0.146 10.622 18.678 23.354 27.796 36.462 44.825 53.539" font-size="13.889">Oct 2021</text>
<text transform="translate(913.332,452.997) rotate(-45) translate(-0.996,-0.541) scale(1.024,1.045)" x="0.03 10.428 19.063 26.627 31.142 39.885 48.321 57.114" font-size="13.889">Nov 2021</text>
<text transform="translate(942.026,452.821) rotate(-45) translate(-0.999,-0.189) scale(1.024,1.048)" x="0.217 10.851 18.935 26.342 30.845 39.574 47.998 56.777" font-size="13.889">Dec 2021</text>
<text transform="translate(975.471,448.843) rotate(-45) translate(-1.08,-0.474) scale(0.945,1.078)" x="-2.036 4.373 14.141 22.608 27.774 37.194 46.284 55.538" font-size="13.889">Jan 2022</text>
<text transform="translate(1002.64,451.141) rotate(-45) translate(0.047,-0.275) scale(0.999,1.046)" x="-0.33 7.601 16.268 24.524 29.161 38.03 46.589 55.303" font-size="13.889">Feb 2022</text>
<text transform="translate(1028.019,452.379) rotate(-45) translate(-0.339,-0.673) scale(1.011,1.043)" x="0.113 11.77 21.234 26.152 30.752 39.583 48.104 56.78" font-size="13.889">Mar 2022</text>
<text transform="translate(1059.077,450.788) rotate(-45) translate(-0.864,-0.429) scale(1.036,1.046)" x="-0.108 9.57 18.367 23.22 27.57 36.142 44.414 52.835" font-size="13.889">Apr 2022</text>
<text transform="translate(1084.235,454.146) rotate(-45) translate(-0.696,-0.761) scale(0.999,1.036)" x="0.183 11.957 21.337 28.967 33.666 42.6 51.222 59.999" font-size="13.889">May 2022</text>
<text transform="translate(1118.917,448.931) rotate(-45) translate(-1.511,-1.019) scale(0.976,1.074)" x="-2.064 4.679 13.797 22.145 27.074 36.247 45.099 54.111" font-size="13.889">Jun 2022</text>
<text transform="translate(1150.882,445.484) rotate(-45) translate(-1.819,-0.597) scale(0.964,1.085)" x="-2.05 4.794 13.743 17.353 22.399 31.695 40.665 49.798" font-size="13.889">Jul 2022</text>
<text transform="translate(1172.924,452.909) rotate(-45) translate(-0.639,-0.367) scale(1.023,1.033)" x="-0.044 9.596 18.123 26.47 30.935 39.626 48.012 56.551" font-size="13.889">Aug 2022</text>
<text transform="translate(1203.099,452.202) rotate(-45) translate(-0.703,-0.721) scale(1.015,1.045)" x="-0.264 9.062 17.706 25.952 30.567 39.414 47.95 56.642" font-size="13.889">Sep 2022</text>
<text transform="translate(1233.118,450.699) rotate(-45) translate(-1.077,-0.161) scale(1.028,1.043)" x="-0.143 10.63 18.689 23.367 27.813 36.484 44.851 53.37" font-size="13.889">Oct 2022</text>
<text transform="translate(1260.376,452.909) rotate(-45) translate(-0.984,-0.502) scale(1.021,1.034)" x="0.032 10.434 19.073 26.639 31.158 39.905 48.345 56.938" font-size="13.889">Nov 2022</text>
<text transform="translate(1289.07,452.732) rotate(-45) translate(-0.659,-0.124) scale(1.018,1.039)" x="0.219 10.857 18.945 26.355 30.861 39.595 48.022 56.603" font-size="13.889">Dec 2022</text>
<text transform="translate(1322.426,448.843) rotate(-45) translate(-0.782,-0.454) scale(0.94,1.081)" x="-2.036 4.373 14.141 22.609 27.775 37.195 46.285 55.777" font-size="13.889">Jan 2023</text>
<text transform="translate(1349.596,451.141) rotate(-45) translate(-0.291,-0.257) scale(1.003,1.048)" x="-0.328 7.605 16.275 24.533 29.173 38.046 46.607 55.55" font-size="13.889">Feb 2023</text>
<text transform="translate(1374.974,452.379) rotate(-45) translate(-0.137,-0.59) scale(0.999,1.039)" x="0.116 11.776 21.243 26.162 30.765 39.6 48.124 57.028" font-size="13.889">Mar 2023</text>
<text transform="translate(1406.033,450.788) rotate(-45) translate(-0.799,-0.31) scale(1.035,1.043)" x="-0.105 9.578 18.378 23.233 27.588 36.165 44.441 53.087" font-size="13.889">Apr 2023</text>
<text transform="translate(1431.191,454.146) rotate(-45) translate(-0.473,-0.595) scale(0.992,1.049)" x="0.185 11.962 21.344 28.975 33.677 42.614 51.238 60.246" font-size="13.889">May 2023</text>
<text transform="translate(1465.873,448.931) rotate(-45) translate(-1.337,-0.979) scale(0.971,1.074)" x="-2.064 4.681 13.8 22.149 27.08 36.255 45.108 54.354" font-size="13.889">Jun 2023</text>
<text transform="translate(1497.837,445.484) rotate(-45) translate(-1.619,-0.556) scale(0.96,1.091)" x="-2.05 4.795 13.745 17.355 22.403 31.7 40.671 50.04" font-size="13.889">Jul 2023</text>
<text transform="translate(1519.88,452.909) rotate(-45) translate(-0.564,-0.352) scale(1.022,1.041)" x="-0.042 9.602 18.133 26.482 30.951 39.646 48.036 56.8" font-size="13.889">Aug 2023</text>
<text transform="translate(1550.055,452.202) rotate(-45) translate(-0.641,-0.595) scale(1.006,1.043)" x="-0.262 9.067 17.714 25.961 30.579 39.43 47.969 56.89" font-size="13.889">Sep 2023</text>
<text transform="translate(1580.074,450.699) rotate(-45) translate(-0.948,-0.164) scale(1.029,1.047)" x="-0.141 10.637 18.699 23.378 27.828 36.504 44.875 53.62" font-size="13.889">Oct 2023</text>
<text transform="translate(1607.332,452.909) rotate(-45) translate(-0.808,-0.504) scale(1.017,1.041)" x="0.034 10.44 19.082 26.651 31.173 39.923 48.367 57.187" font-size="13.889">Nov 2023</text>
<text transform="translate(1636.026,452.732) rotate(-45) translate(-0.75,-0.117) scale(1.014,1.045)" x="0.222 10.864 18.955 26.366 30.876 39.614 48.045 56.852" font-size="13.889">Dec 2023</text>
<text transform="translate(1669.382,448.843) rotate(-45) translate(-0.76,-0.584) scale(0.943,1.079)" x="-2.044 4.31 14.008 22.442 27.541 36.892 45.914 55.312" font-size="13.889">Jan 2024</text>
<text transform="translate(1696.551,451.141) rotate(-45) translate(-0.047,-0.031) scale(1.004,1.053)" x="-0.355 7.533 16.147 24.378 28.963 37.78 46.288 55.151" font-size="13.889">Feb 2024</text>
<text transform="translate(1722.88,452.379) rotate(-45) translate(-0.246,-0.61) scale(1.015,1.039)" x="0.079 11.677 21.094 26 30.55 39.329 47.8 56.627" font-size="13.889">Mar 2024</text>
<text transform="translate(1753.939,450.788) rotate(-45) translate(-0.852,-0.237) scale(1.043,1.043)" x="-0.132 9.497 18.254 23.095 27.402 35.928 44.155 52.728" font-size="13.889">Apr 2024</text>
<text transform="translate(1779.097,454.146) rotate(-45) translate(-0.306,-0.737) scale(0.998,1.039)" x="0.149 11.866 21.196 28.803 33.453 42.337 50.91 59.841" font-size="13.889">May 2024</text>
<text transform="translate(1813.779,448.931) rotate(-45) translate(-1.188,-0.939) scale(0.979,1.077)" x="-2.071 4.619 13.673 21.991 26.858 35.967 44.757 53.914" font-size="13.889">Jun 2024</text>
<text transform="translate(1845.743,445.484) rotate(-45) translate(-1.432,-0.6) scale(0.964,1.086)" x="-2.058 4.723 13.619 17.212 22.186 31.406 40.303 49.571" font-size="13.889">Jul 2024</text>
<text transform="translate(1867.786,452.909) rotate(-45) translate(-0.361,-0.36) scale(1.027,1.04)" x="-0.069 9.524 18.006 26.328 30.749 39.393 47.735 56.426" font-size="13.889">Aug 2024</text>
<text transform="translate(1897.961,452.202) rotate(-45) translate(-0.632,-0.65) scale(1.018,1.037)" x="-0.289 8.987 17.581 25.802 30.368 39.164 47.652 56.494" font-size="13.889">Sep 2024</text>
<text transform="translate(1927.98,450.699) rotate(-45) translate(-0.671,-0.163) scale(1.031,1.038)" x="-0.173 10.55 18.574 23.236 27.636 36.259 44.579 53.248" font-size="13.889">Oct 2024</text>
<text transform="translate(998.826,476) translate(0.348,-0.167) scale(1.023,1.128)" x="-0.298 13.648 23.482 33.84 39.549" font-size="16.667">Month</text>
<text transform="translate(51.181,393.886) translate(0.667,0.238) scale(1.066,0.996)" x="0.297" font-size="13.889">0</text>
<text transform="translate(42.431,334.71) translate(-0.32,-0.065) scale(1.014,1.021)" x="0.218 8.957" font-size="13.889">20</text>
<text transform="translate(42.431,275.535) translate(0.684,0.338) scale(0.97,0.997)" x="0.338 8.716" font-size="13.889">40</text>
<text transform="translate(42.306,216.36) translate(-0.376,-0.341) scale(1.07,1.003)" x="0.287 8.628" font-size="13.889">60</text>
<text transform="translate(42.306,157.184) translate(-0.311,0.065) scale(1.05,1.015)" x="0.377 8.733" font-size="13.889">80</text>
<text transform="translate(33.556,98.009) translate(0.398,-0.509) scale(0.98,1.032)" x="0.389 8.986 17.51" font-size="13.889">100</text>
<text transform="translate(33.556,38.833) translate(0.412,-0.201) scale(0.968,1.044)" x="0.445 8.993 17.777" font-size="13.889">120</text>
<text transform="translate(24,259.047) rotate(-90) translate(-0.966,-0.51) scale(1.04,1.122)" x="-0.247 8.228 13.945 24.007 33.963 43.865 48.73 58.241 68.847 73.189 83.237" font-size="16.667">Trend Value</text>
<text transform="translate(391.591,62.921) translate(0.084,-0.353) scale(1.071,1.058)" x="0.496" font-size="13.889" fill="#8b0000" stroke="#8b0000">1</text>
<text transform="translate(865.389,25) translate(-0.973,0.039) scale(1.176,1.037)" x="0.097 12.691 25.007 38.785 44.263 56.783 67.576 79.649 86.651 97.266 109.002 114.643 124.934 132.861 144.081 155.801 167.605 173.877 180.553 192.7 200.316 206.413 222.896 234.073 244.939 249.78 260.253" font-size="19.444" font-weight="bold">VPN Search Trend for Mexico</text>
<text transform="translate(121.042,56.833) translate(0.213,-0.199) scale(1.034,1.062)" x="-0.056 11.802 19.945 27.738 31.193 38.701 46.724 50.836 59.672 68.095 78.155 82.801 91.086 99.54 107.931 116.37 119.578 128.815 133.952 138.053 143.184" font-size="13.889">Mexico VPN popularity</text></g>
</svg>
</body></html>
